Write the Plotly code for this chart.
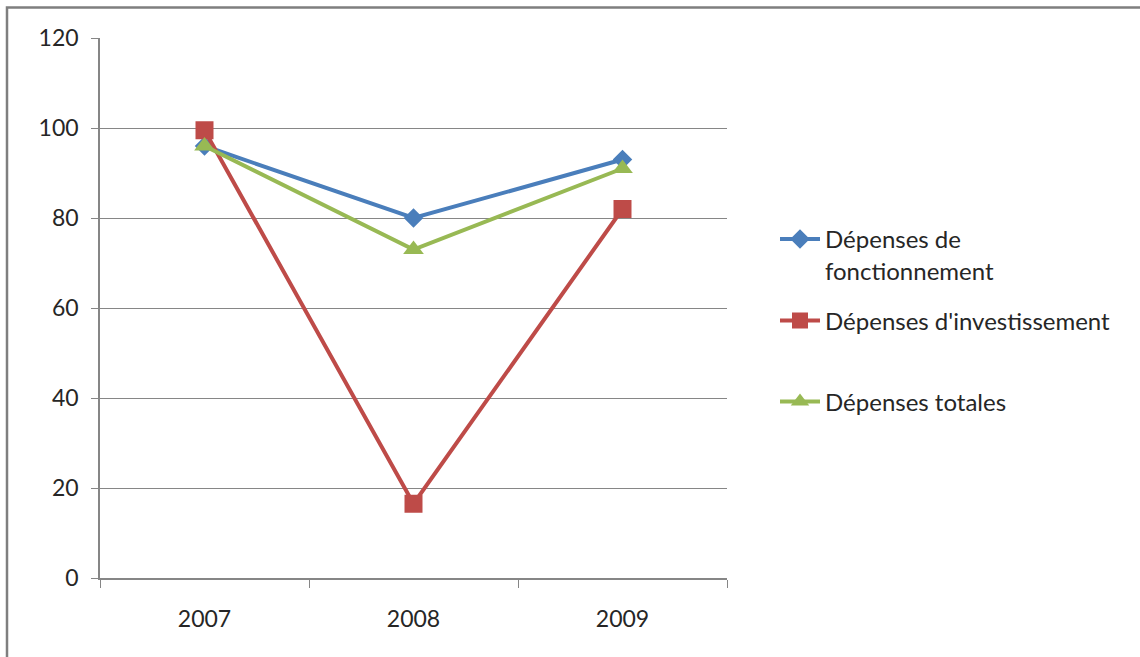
import plotly.graph_objects as go

years = ["2007", "2008", "2009"]
fonctionnement = [96, 80, 93]
investissement = [99.5, 16.5, 82]
totales = [96, 73, 91]
names = ["Dépenses de<br>fonctionnement", "Dépenses d'investissement", "Dépenses totales"]
y_ticks = [0, 20, 40, 60, 80, 100, 120]

W, H = 1140, 657
L, R, T, B = 100, 413, 38, 79

pw = W - L - R
ph = H - T - B
def px(x):
    return (x - L) / pw
def py(y):
    return (H - B - y) / ph

fig = go.Figure()
fig.add_trace(go.Scatter(x=years, y=fonctionnement, name=names[0], mode="lines+markers",
                         line=dict(color="#4A7EBB", width=4),
                         marker=dict(symbol="diamond", size=15, color="#4A7EBB"),
                         legend="legend"))
fig.add_trace(go.Scatter(x=years, y=investissement, name=names[1], mode="lines+markers",
                         line=dict(color="#BE4B48", width=4),
                         marker=dict(symbol="square", size=18, color="#BE4B48"),
                         legend="legend2"))
fig.add_trace(go.Scatter(x=years, y=totales, name=names[2], mode="lines+markers",
                         line=dict(color="#98B954", width=4),
                         marker=dict(symbol="triangle-up", size=18, color="#98B954"),
                         legend="legend3"))

leg_common = dict(xanchor="left", font=dict(size=24, color="#262626"),
                  bgcolor="rgba(0,0,0,0)", valign="top", itemwidth=40)

fig.update_layout(
    width=W, height=H,
    margin=dict(l=L, r=R, t=T, b=B),
    paper_bgcolor="white", plot_bgcolor="white",
    font=dict(family="Lato, Noto Sans, sans-serif", size=23, color="#262626"),
    showlegend=True,
    legend=dict(x=px(775), y=py(217), yanchor="top", **leg_common),
    legend2=dict(x=px(775), y=py(321), yanchor="middle", **leg_common),
    legend3=dict(x=px(775), y=py(402), yanchor="middle", **leg_common),
    xaxis=dict(type="category", range=[-0.5, 2.5], showgrid=False,
               showline=True, linecolor="#868686", linewidth=1.5,
               ticks="outside", tickson="boundaries", ticklen=8, tickcolor="#868686",
               tickfont=dict(size=23), ticklabelstandoff=20, fixedrange=True),
    yaxis=dict(range=[0, 120], tickvals=y_ticks, showgrid=True, gridcolor="#868686",
               gridwidth=1.2, showline=True, linecolor="#868686", linewidth=1.5,
               ticks="outside", ticklen=7, tickcolor="#868686", zeroline=False,
               tickfont=dict(size=23), ticklabelstandoff=8, fixedrange=True),
    shapes=[
        dict(type="rect", xref="paper", yref="paper",
             x0=px(7), x1=px(1160), y0=py(690), y1=py(7.5),
             line=dict(color="#7F7F7F", width=2.5), fillcolor="rgba(0,0,0,0)", layer="below"),
    ],
)

fig.write_html("out.html", config={"displayModeBar": False},
               post_script="document.body.style.margin='0';")
